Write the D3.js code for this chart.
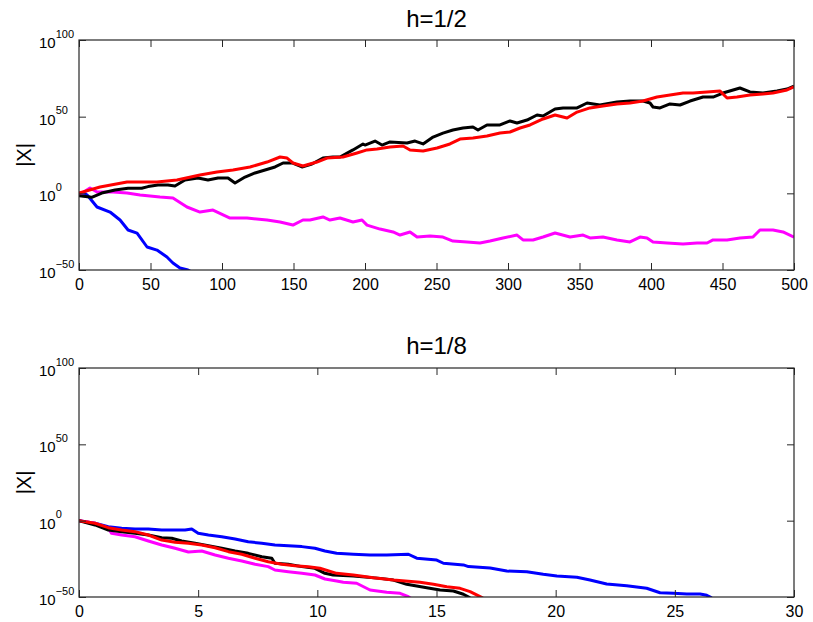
<!DOCTYPE html>
<html>
<head>
<meta charset="utf-8">
<script src="https://cdn.jsdelivr.net/npm/d3@7"></script>
<style>
  body { margin: 0; background: #fff; }
  svg { display: block; font-family: "Liberation Sans", Arial, sans-serif; }
</style>
</head>
<body>
<svg id="chart" width="813" height="622"></svg>
<script>
// values are [t, log10 |X|]
const h2Blue = [[0,0],[4.2,0],[6.3,-1.7],[12.6,-8.9],[21.7,-12.2],[28.7,-17.4],[34.3,-23.9],[40.6,-25.9],
  [47.6,-35],[54.5,-37],[61.5,-41.5],[65.7,-45.4],[70.6,-48.7],[76.2,-50],[80,-52]];
const h2Magenta = [[0,-1.1],[7.7,3.5],[12.6,0.9],[23.8,0.9],[33.6,0.2],[42.7,-1.1],[56.6,-2.4],[65.7,-3.0],
  [75.5,-8.9],[84.6,-12.2],[93.7,-10.9],[105.6,-16.1],[117.5,-16.1],[131.5,-17.4],[140.6,-18.7],[149.6,-20.7],
  [156.6,-17.4],[161.5,-17.4],[170.6,-15.4],[175.5,-17.4],[182.5,-16.1],[191.6,-18.7],[197.9,-17.4],[201.4,-20.7],
  [210.5,-23.3],[219.6,-25.2],[224.5,-27.2],[231.5,-25.2],[236.4,-28.5],[245.5,-27.8],[254.5,-28.5],[261.5,-31.1],
  [271.3,-31.7],[280.4,-32.4],[287.4,-31.1],[296.5,-29.1],[306.3,-27.2],[310.5,-30.4],[317.5,-30.4],[324.5,-28.5],
  [332.9,-25.9],[343.4,-28.5],[352.5,-27.2],[357.3,-29.1],[366.4,-28.5],[376.2,-30.4],[385.3,-31.7],[392.3,-28.5],
  [397.2,-29.1],[401.4,-31.7],[411.2,-32.4],[422.4,-33.0],[432.2,-32.4],[439.2,-32.4],[443.4,-30.4],[453.2,-30.4],
  [462.2,-29.1],[471.3,-28.5],[476.2,-23.9],[485.3,-23.9],[492.3,-25.2],[500,-28.5]];
const h2Black = [[0,-1.5],[8.9,-2.6],[15.9,0.2],[25.2,2.2],[34.3,3.3],[43.8,3.3],[48.3,4.4],[55.2,5.4],[62.2,5.4],
  [67.1,4.8],[74.1,8.7],[83.2,10.0],[90.2,8.7],[97.2,10.0],[104.2,10.0],[109.1,6.7],[116.1,10.6],[123.1,13.3],
  [130.1,15.2],[137.1,17.2],[142.7,19.8],[149.0,19.8],[155.9,17.2],[162.9,19.1],[170.6,23.0],[177.6,23.7],
  [182.5,23.7],[191.6,28.3],[198.6,32.2],[200.0,31.5],[207.0,34.1],[211.9,31.5],[217.5,33.5],[229.4,32.8],
  [235.0,34.1],[240.6,32.2],[247.6,36.7],[254.5,39.3],[261.5,41.3],[268.5,42.6],[275.5,43.3],[279.0,41.3],
  [285.3,44.6],[294.4,44.6],[301.4,47.2],[306.3,45.9],[313.3,47.8],[320.3,51.1],[324.5,50.4],[332.9,55.0],
  [338.5,55.7],[348.3,55.7],[355.3,58.9],[364.3,57.6],[376.2,59.6],[385.3,60.2],[394.4,60.2],[399.3,58.9],
  [401.4,56.3],[406.3,55.7],[413.3,58.3],[420.3,57.6],[427.3,60.2],[436.4,62.8],[443.4,62.8],[450.3,65.4],
  [462.2,68.7],[469.2,66.1],[478.3,65.4],[488.1,66.7],[495.1,68.0],[500,70.0]];
const h2Red = [[0,0.2],[14.7,4.1],[33.6,7.4],[42.7,7.4],[54.5,7.4],[68.5,8.7],[84.6,12.0],[96.5,13.9],
  [107.7,15.2],[119.6,17.2],[131.5,20.4],[140.6,23.7],[145.5,23.0],[149.6,19.8],[156.6,17.8],[166.4,20.4],
  [173.4,23.0],[184.6,23.7],[189.5,25.0],[194.4,26.3],[201.4,28.3],[208.4,28.9],[217.5,30.2],[226.6,30.9],
  [231.5,28.3],[240.6,27.6],[250.4,29.6],[259.4,32.2],[266.4,35.4],[275.5,36.1],[285.3,37.4],[294.4,39.3],
  [301.4,40.0],[308.4,42.6],[315.4,44.6],[324.5,48.5],[332.9,51.1],[338.5,49.8],[341.3,49.1],[348.3,53.0],
  [357.3,55.7],[366.4,57.0],[376.2,58.3],[385.3,58.9],[394.4,60.2],[404.2,62.8],[413.3,64.1],[422.4,65.4],
  [429.4,65.4],[439.2,66.1],[448.3,66.7],[453.2,62.2],[460.1,62.8],[469.2,64.1],[478.3,64.8],[485.3,65.4],
  [495.1,67.4],[500,69.4]];

const h8Blue = [[0,0],[0.67,-1.7],[1.23,-3.9],[1.79,-5.0],[2.35,-5.5],[2.91,-5.5],[3.47,-6.1],[4.03,-6.1],
  [4.45,-6.1],[4.73,-5.5],[5.0,-8.3],[5.43,-9.4],[5.99,-10.5],[6.55,-12.0],[7.10,-13.8],[7.67,-14.8],
  [8.22,-15.9],[8.78,-16.4],[9.35,-17.0],[9.90,-18.1],[10.32,-19.9],[10.81,-21.4],[11.51,-22.0],[12.21,-22.5],
  [12.91,-22.5],[13.82,-22.0],[14.17,-24.6],[15.01,-25.8],[15.29,-27.9],[16.13,-29.0],[16.34,-30.1],
  [17.25,-31.0],[17.95,-33.0],[18.79,-33.4],[19.48,-35.1],[20.05,-36.2],[20.89,-37.1],[21.44,-38.9],
  [22.14,-41.5],[22.98,-42.6],[23.82,-44.3],[24.38,-47.2],[24.94,-47.6],[25.50,-48.0],[26.06,-48.0],
  [26.34,-48.9],[26.55,-50.5]];
const h8Magenta = [[0,0],[0.67,-1.7],[1.23,-5.0],[1.37,-8.3],[1.79,-9.4],[2.35,-10.5],[2.91,-13.3],
  [3.47,-15.9],[4.03,-18.1],[4.59,-20.5],[5.15,-19.9],[5.71,-22.5],[6.27,-24.6],[6.83,-26.4],[7.39,-28.6],
  [7.94,-30.1],[8.22,-32.3],[8.78,-33.4],[9.35,-34.5],[9.90,-35.6],[10.32,-38.2],[10.81,-39.5],[11.09,-40.4],
  [11.65,-41.0],[12.21,-45.4],[12.91,-46.9],[13.47,-47.6],[13.82,-49.8],[13.96,-51.3]];
const h8Black = [[0,0],[0.67,-2.8],[1.23,-6.1],[1.79,-7.2],[2.35,-8.3],[2.91,-9.4],[3.47,-11.2],[3.89,-11.5],
  [4.31,-13.3],[4.87,-14.8],[5.43,-16.4],[5.99,-18.1],[6.55,-19.9],[7.10,-21.4],[7.67,-23.6],[8.09,-24.6],
  [8.22,-27.9],[8.78,-28.6],[9.35,-30.1],[9.90,-31.2],[10.32,-34.5],[10.66,-35.6],[11.51,-36.2],[12.63,-37.8],
  [13.19,-38.9],[13.75,-41.7],[14.59,-43.9],[15.15,-45.4],[15.71,-46.1],[16.13,-48.2],[16.41,-50.5]];
const h8Red = [[0,0],[0.67,-1.7],[1.23,-4.6],[1.79,-6.1],[2.35,-7.2],[2.91,-9.4],[3.47,-12.7],[4.03,-14.2],
  [4.59,-14.8],[5.15,-15.9],[5.71,-17.7],[6.27,-20.3],[6.83,-22.0],[7.39,-24.6],[7.94,-26.9],[8.51,-28.6],
  [9.06,-29.5],[9.62,-30.2],[10.11,-31.2],[10.81,-34.5],[11.51,-35.6],[12.35,-37.4],[13.19,-38.9],
  [14.31,-40.4],[14.87,-41.7],[15.43,-43.3],[15.99,-44.3],[16.41,-46.5],[16.83,-49.8],[16.95,-50.7]];

const yTickExps = [-50, 0, 50, 100];
const xTicksH2 = d3.range(0, 501, 50);
const xTicksH8 = d3.range(0, 31, 5);

const panels = [
  { title: 'h=1/2', top: 40, bottom: 270, xMax: 500, xTicks: xTicksH2, titleY: 27,
    series: [[h2Blue, '#0000ff'], [h2Magenta, '#ff00ff'], [h2Black, '#000000'], [h2Red, '#ff0000']] },
  { title: 'h=1/8', top: 368, bottom: 597, xMax: 30, xTicks: xTicksH8, titleY: 354,
    series: [[h8Blue, '#0000ff'], [h8Magenta, '#ff00ff'], [h8Black, '#000000'], [h8Red, '#ff0000']] },
];

const left = 79, right = 794;
const svg = d3.select('#chart');
const axisColor = '#262626';

panels.forEach((p, pi) => {
  const x = d3.scaleLinear().domain([0, p.xMax]).range([left, right]);
  const y = d3.scaleLog().domain([1e-50, 1e100]).range([p.bottom, p.top]);

  svg.append('clipPath').attr('id', `clip${pi}`)
    .append('rect')
      .attr('x', left).attr('y', p.top)
      .attr('width', right - left).attr('height', p.bottom - p.top);

  const line = d3.line()
    .x(d => x(d[0]))
    .y(d => y(Math.pow(10, d[1])));

  const lines = svg.append('g').attr('clip-path', `url(#clip${pi})`);
  p.series.forEach(([data, color]) => {
    lines.append('path')
      .datum(data)
      .attr('d', line)
      .attr('fill', 'none')
      .attr('stroke', color)
      .attr('stroke-width', 3)
      .attr('stroke-linejoin', 'round');
  });

  // box
  svg.append('rect')
    .attr('x', left).attr('y', p.top)
    .attr('width', right - left).attr('height', p.bottom - p.top)
    .attr('fill', 'none').attr('stroke', axisColor).attr('stroke-width', 1.2);

  const yTicks = yTickExps.map(e => Math.pow(10, e));

  const gx = svg.append('g')
    .attr('transform', `translate(0, ${p.bottom})`)
    .call(d3.axisBottom(x).tickValues(p.xTicks).tickSizeInner(-7).tickSizeOuter(0).tickPadding(9).tickFormat(d3.format('d')));
  gx.selectAll('text').attr('font-size', 16).attr('fill', '#000').attr('font-family', null);

  svg.append('g')
    .attr('transform', `translate(0, ${p.top})`)
    .call(d3.axisTop(x).tickValues(p.xTicks).tickSizeInner(-7).tickSizeOuter(0).tickFormat(''));

  svg.append('g')
    .attr('transform', `translate(${right}, 0)`)
    .call(d3.axisRight(y).tickValues(yTicks).tickSizeInner(-7).tickSizeOuter(0).tickFormat(''));

  const gy = svg.append('g')
    .attr('transform', `translate(${left}, 0)`)
    .call(d3.axisLeft(y).tickValues(yTicks).tickSizeInner(-7).tickSizeOuter(0).tickFormat(''));
  gy.selectAll('.tick').each(function(d) {
    const e = Math.round(Math.log10(d));
    const t = d3.select(this).append('text')
      .attr('x', -40).attr('y', 7.5)
      .attr('text-anchor', 'start')
      .attr('fill', '#000')
      .attr('font-size', 15);
    t.append('tspan').text('10');
    t.append('tspan')
      .attr('font-size', 11)
      .attr('dy', -10.5)
      .text(e < 0 ? '\u2212' + Math.abs(e) : String(e));
  });

  svg.selectAll('.domain').remove();
  svg.selectAll('.tick line').attr('stroke', axisColor);

  svg.append('text')
    .attr('x', (left + right) / 2).attr('y', p.titleY)
    .attr('text-anchor', 'middle')
    .attr('font-size', 24)
    .text(p.title);

  svg.append('text')
    .attr('transform', `translate(31, ${(p.top + p.bottom) / 2}) rotate(-90)`)
    .attr('text-anchor', 'middle')
    .attr('font-size', 20)
    .text('|X|');
});
</script>
</body>
</html>
